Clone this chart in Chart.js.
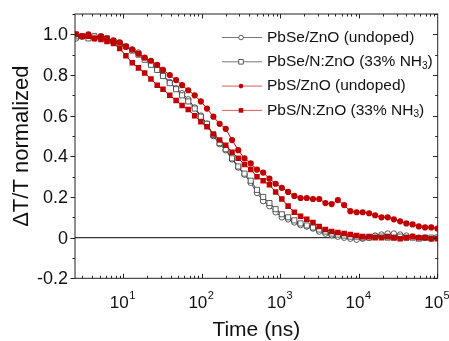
<!DOCTYPE html>
<html>
<head>
<meta charset="utf-8">
<script src="https://cdn.jsdelivr.net/npm/chart.js@4.4.1/dist/chart.umd.min.js"></script>
<style>
html,body{margin:0;padding:0;background:#fff}
canvas{display:block}
</style>
</head>
<body>
<canvas id="grafico" width="449" height="341"></canvas>
<script>
// time axis (ns), shared by all four traces
const times = [2.5, 3, 3.6, 4.3, 5.2, 6.2, 7.5, 9, 10.8, 13, 15.6, 18.7, 22.5, 27, 32, 39, 47, 56, 67, 81,
  97, 116, 140, 168, 201, 242, 290, 348, 418, 502, 602, 723, 867, 1040, 1250, 1500, 1800, 2160, 2590, 3110,
  3730, 4480, 5370, 6450, 7740, 9290, 11100, 13400, 16000, 19300, 23100, 27700, 33300, 39900, 47900, 57500,
  69000, 82800, 99000];

const pbseUndoped = [0.98, 0.99, 0.99, 0.99, 0.99, 0.975, 0.96, 0.95, 0.94, 0.925, 0.91, 0.88, 0.855, 0.83, 0.80, 0.765, 0.735, 0.71, 0.68, 0.64,
  0.60, 0.56, 0.50, 0.46, 0.43, 0.385, 0.345, 0.31, 0.27, 0.22, 0.18, 0.155, 0.125, 0.10, 0.09, 0.075, 0.062, 0.055, 0.045, 0.03,
  0.02, 0.012, 0.005, 0.0, -0.005, -0.01, -0.005, 0.0, 0.01, 0.015, 0.02, 0.02, 0.015, 0.01, 0.005, 0.0,
  0.0, -0.005, 0.0];

const pbseDoped = [0.99, 0.99, 0.98, 0.99, 0.985, 0.98, 0.965, 0.955, 0.94, 0.92, 0.90, 0.875, 0.85, 0.825, 0.795, 0.76, 0.73, 0.70, 0.67, 0.635,
  0.595, 0.56, 0.505, 0.465, 0.435, 0.39, 0.35, 0.315, 0.28, 0.235, 0.20, 0.17, 0.14, 0.115, 0.10, 0.085, 0.07, 0.06, 0.05, 0.04,
  0.03, 0.02, 0.015, 0.01, 0.005, 0.005, 0.0, 0.0, 0.005, 0.005, 0.0, 0.0, 0.005, 0.0, 0.0, -0.005,
  0.0, 0.0, 0.0];

const pbsUndoped = [1.0, 0.99, 1.0, 0.98, 0.99, 0.98, 0.97, 0.96, 0.94, 0.925, 0.905, 0.885, 0.87, 0.85, 0.825, 0.80, 0.775, 0.75, 0.725, 0.70,
  0.67, 0.635, 0.595, 0.56, 0.535, 0.48, 0.43, 0.39, 0.365, 0.335, 0.32, 0.29, 0.265, 0.245, 0.225, 0.205, 0.195, 0.195, 0.19, 0.19,
  0.17, 0.165, 0.185, 0.16, 0.13, 0.125, 0.125, 0.12, 0.11, 0.10, 0.10, 0.09, 0.08, 0.07, 0.065, 0.055,
  0.05, 0.05, 0.045];

const pbsDoped = [1.0, 0.99, 0.99, 0.98, 0.975, 0.965, 0.955, 0.93, 0.895, 0.86, 0.835, 0.81, 0.78, 0.75, 0.73, 0.70, 0.675, 0.65, 0.63, 0.60,
  0.57, 0.545, 0.51, 0.48, 0.455, 0.42, 0.39, 0.36, 0.335, 0.30, 0.28, 0.26, 0.225, 0.19, 0.155, 0.125, 0.105, 0.09, 0.075, 0.055,
  0.04, 0.03, 0.025, 0.02, 0.015, 0.01, 0.005, 0.005, 0.0, 0.0, 0.005, 0.0, -0.005, 0.0, 0.005, 0.0,
  0.0, -0.005, -0.005];

const seriesNames = ["PbSe/ZnO (undoped)", "PbSe/N:ZnO (33% NH", "PbS/ZnO (undoped)", "PbS/N:ZnO (33% NH"];
const seriesSub = ["", "3", "", "3"];
const yTickValues = [-0.2, 0, 0.2, 0.4, 0.6, 0.8, 1.0];
const yMinorValues = [-0.1, 0.1, 0.3, 0.5, 0.7, 0.9, 1.1];
const xTickExponents = [1, 2, 3, 4, 5];

const FONT = "'Liberation Sans', Arial, sans-serif";
const GREY = "#333";
const RED = "#c00000";

const pts = (vals) => vals.map((v, i) => ({x: times[i], y: v}));

const estilos = [
  {cor: GREY, fill: "#fff", forma: "circle", raio: 2.8, linha: 0.9},
  {cor: GREY, fill: "#fff", forma: "rect", raio: 3.6, linha: 0.9},
  {cor: RED, fill: RED, forma: "circle", raio: 3.1, linha: 1},
  {cor: RED, fill: RED, forma: "rect", raio: 3.9, linha: 1}
];

function dataset(vals, i, ordem){
  const s = estilos[i];
  return {
    label: seriesNames[i] + seriesSub[i],
    data: pts(vals),
    borderColor: s.cor,
    borderWidth: s.linha,
    pointStyle: s.forma,
    pointRadius: s.raio,
    pointBackgroundColor: s.fill,
    pointBorderColor: s.cor,
    pointBorderWidth: i < 2 ? 0.8 : 0,
    tension: 0,
    order: ordem
  };
}

function drawMarker(ctx, s, x, y){
  ctx.save();
  ctx.fillStyle = s.fill;
  ctx.strokeStyle = s.cor;
  ctx.lineWidth = 0.8;
  ctx.beginPath();
  if(s.forma === "circle"){ ctx.arc(x, y, 2.3, 0, Math.PI * 2); }
  else { ctx.rect(x - 2.3, y - 2.3, 4.6, 4.6); }
  ctx.fill();
  if(s.fill === "#fff"){ ctx.stroke(); }
  ctx.restore();
}

const eixos = {
  id: "eixos",
  beforeDatasetsDraw(chart){
    const {ctx, chartArea: a, scales: {y}} = chart;
    const y0 = y.getPixelForValue(0);
    ctx.save();
    ctx.strokeStyle = "#333";
    ctx.lineWidth = 1.3;
    ctx.beginPath(); ctx.moveTo(a.left, y0); ctx.lineTo(a.right, y0); ctx.stroke();
    ctx.restore();
  },
  afterDraw(chart){
    const {ctx, chartArea: a, scales: {x, y}} = chart;
    ctx.save();
    ctx.strokeStyle = "#222";
    ctx.lineWidth = 1;
    ctx.strokeRect(a.left, a.top, a.right - a.left, a.bottom - a.top);

    ctx.beginPath();
    // y ticks: out on the left, in on the right
    yTickValues.forEach(v => {
      const p = Math.round(y.getPixelForValue(v)) + 0.5;
      ctx.moveTo(a.left, p); ctx.lineTo(a.left - 4.5, p);
      ctx.moveTo(a.right, p); ctx.lineTo(a.right - 4.5, p);
    });
    yMinorValues.forEach(v => {
      const p = Math.round(y.getPixelForValue(v)) + 0.5;
      ctx.moveTo(a.left, p); ctx.lineTo(a.left - 2.5, p);
      ctx.moveTo(a.right, p); ctx.lineTo(a.right - 2.5, p);
    });
    // x ticks on the log axis
    for(let e = 0; e <= 4; e++){
      for(let k = 1; k <= 9; k++){
        const t = k * Math.pow(10, e);
        if(t < x.min || t > x.max * 1.001){ continue; }
        const p = Math.round(x.getPixelForValue(t)) + 0.5;
        const len = k === 1 ? 4.5 : 2.5;
        ctx.moveTo(p, a.bottom); ctx.lineTo(p, a.bottom - len);
        ctx.moveTo(p, a.top); ctx.lineTo(p, a.top + len);
      }
    }
    const pMax = Math.round(x.getPixelForValue(1e5)) - 0.5;
    ctx.moveTo(pMax, a.bottom); ctx.lineTo(pMax, a.bottom - 4.5);
    ctx.stroke();

    // tick labels
    ctx.fillStyle = "#111";
    ctx.font = `18px ${FONT}`;
    ctx.textAlign = "right";
    ctx.textBaseline = "middle";
    yTickValues.forEach(v => {
      ctx.fillText(v === 0 ? "0" : v.toFixed(1), a.left - 7, y.getPixelForValue(v) + 1);
    });
    ctx.textAlign = "left";
    ctx.textBaseline = "alphabetic";
    xTickExponents.forEach(e => {
      const p = x.getPixelForValue(Math.pow(10, e));
      ctx.font = `17px ${FONT}`;
      const w1 = ctx.measureText("10").width;
      ctx.font = `11px ${FONT}`;
      const w2 = ctx.measureText(String(e)).width;
      const x0 = p - (w1 + w2) / 2 - 1;
      ctx.font = `17px ${FONT}`;
      ctx.fillText("10", x0, 308);
      ctx.font = `11px ${FONT}`;
      ctx.fillText(String(e), x0 + w1 + 0.5, 299);
    });

    // axis titles
    ctx.font = `21px ${FONT}`;
    ctx.textAlign = "center";
    ctx.fillText("Time (ns)", (a.left + a.right) / 2, 336);
    ctx.save();
    ctx.translate(28, (a.top + a.bottom) / 2);
    ctx.rotate(-Math.PI / 2);
    ctx.font = `22px ${FONT}`;
    ctx.fillText("\u0394T/T normalized", 0, 0);
    ctx.restore();

    // legend
    seriesNames.forEach((nome, i) => {
      const s = estilos[i];
      const ly = 37.5 + i * 24.3;
      ctx.save();
      ctx.strokeStyle = i < 2 ? "#777" : "rgba(200,40,40,0.75)";
      ctx.lineWidth = 1;
      ctx.beginPath(); ctx.moveTo(222, ly); ctx.lineTo(262, ly); ctx.stroke();
      ctx.restore();
      drawMarker(ctx, s, 241, ly);
      ctx.fillStyle = "#111";
      ctx.textAlign = "left";
      ctx.textBaseline = "middle";
      ctx.font = `15.5px ${FONT}`;
      ctx.fillText(nome, 267, ly);
      if(seriesSub[i]){
        const w = ctx.measureText(nome).width;
        ctx.font = `10px ${FONT}`;
        ctx.fillText(seriesSub[i], 267 + w, ly + 4);
        const ws = ctx.measureText(seriesSub[i]).width;
        ctx.font = `15.5px ${FONT}`;
        ctx.fillText(")", 267 + w + ws, ly);
      }
    });
    ctx.restore();
  }
};

new Chart(document.getElementById("grafico"), {
  type: "line",
  data: {
    datasets: [
      dataset(pbseUndoped, 0, 4),
      dataset(pbseDoped, 1, 3),
      dataset(pbsUndoped, 2, 2),
      dataset(pbsDoped, 3, 1)
    ]
  },
  options: {
    responsive: false,
    animation: false,
    layout: { padding: { left: 75, right: 11.3, top: 14, bottom: 62.7 } },
    plugins: { legend: { display: false }, tooltip: { enabled: false } },
    scales: {
      x: { type: "logarithmic", min: 2.43, max: 100000, display: false },
      y: { type: "linear", min: -0.2, max: 1.1, display: false }
    }
  },
  plugins: [eixos]
});
</script>
</body>
</html>
